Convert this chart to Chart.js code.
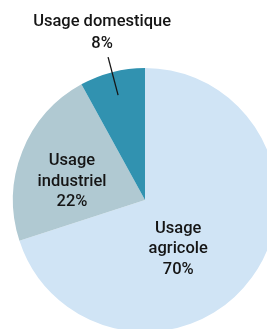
<!DOCTYPE html>
<html>
<head>
<meta charset="utf-8">
<script src="https://cdn.jsdelivr.net/npm/chart.js@4/dist/chart.umd.min.js"></script>
<style>
  html, body { margin: 0; padding: 0; background: #fff; overflow: hidden; }
  canvas { display: block; }
</style>
</head>
<body>
<canvas id="usages" width="290" height="340"></canvas>
<script>
const categories = [['Usage', 'agricole'], ['Usage', 'industriel'], ['Usage domestique']];
const valeurs = [70, 22, 8];
const couleurs = ['#d0e4f5', '#b0c9d2', '#3192b0'];

// position des étiquettes : angle (degrés, canvas) et distance en fraction du rayon
const etiquettes = [
  { angle: 56, dist: 0.45 },
  { angle: 194, dist: 0.57 },
  { angle: 0, dist: 0, dehors: true }
];

const pluginEtiquettes = {
  id: 'etiquettes',
  afterDatasetsDraw(chart) {
    const ctx = chart.ctx;
    const arcs = chart.getDatasetMeta(0).data;
    ctx.save();
    ctx.font = '500 16.5px Roboto';
    ctx.fillStyle = '#151515';
    ctx.textAlign = 'center';
    ctx.textBaseline = 'middle';
    const lh = 20.5;
    arcs.forEach((arc, i) => {
      const lignes = categories[i].concat([valeurs[i] + '%']);
      const e = etiquettes[i];
      if (e.dehors) {
        // étiquette au-dessus du camembert avec un trait
        const a = (arc.startAngle + arc.endAngle) / 2;
        const r = arc.outerRadius;
        const x1 = arc.x + Math.cos(a) * r * 0.82;
        const y1 = arc.y + Math.sin(a) * r * 0.82;
        const x2 = x1 - 10;
        const y2 = y1 - 38;
        ctx.strokeStyle = '#151515';
        ctx.lineWidth = 1.3;
        ctx.beginPath();
        ctx.moveTo(x1, y1);
        ctx.lineTo(x2, y2);
        ctx.stroke();
        ctx.fillText(lignes[0], x2 - 6, y2 - 35);
        ctx.fillText(lignes[1], x2 - 6, y2 - 13);
      } else {
        const a = e.angle * Math.PI / 180;
        const cx = arc.x + Math.cos(a) * arc.outerRadius * e.dist;
        const cy = arc.y + Math.sin(a) * arc.outerRadius * e.dist;
        const y0 = cy - lh * (lignes.length - 1) / 2;
        lignes.forEach((t, k) => ctx.fillText(t, cx, y0 + k * lh));
      }
    });
    ctx.restore();
  }
};

new Chart(document.getElementById('usages'), {
  type: 'pie',
  data: {
    labels: categories.map(c => c.join(' ')),
    datasets: [{
      data: valeurs,
      backgroundColor: couleurs,
      borderWidth: 0
    }]
  },
  options: {
    responsive: false,
    animation: false,
    layout: { padding: { left: 13, top: 68, right: 13, bottom: 8 } },
    plugins: {
      legend: { display: false },
      tooltip: { enabled: false }
    }
  },
  plugins: [pluginEtiquettes]
});
</script>
</body>
</html>
